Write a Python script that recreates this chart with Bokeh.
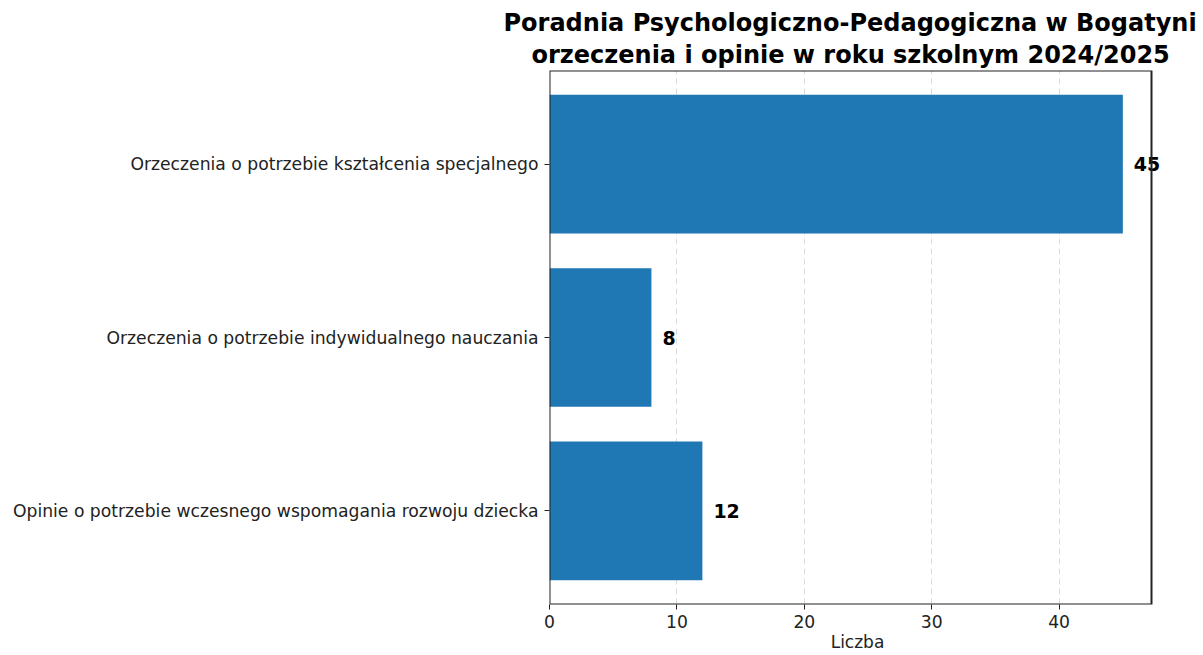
from bokeh.plotting import figure
from bokeh.models import Range1d, Title, ColumnDataSource, FixedTicker, Label, BoxAnnotation
from bokeh.embed import file_html
from bokeh.resources import INLINE

categories = [
    "Orzeczenia o potrzebie kształcenia specjalnego",
    "Orzeczenia o potrzebie indywidualnego nauczania",
    "Opinie o potrzebie wczesnego wspomagania rozwoju dziecka",
]
counts = [45, 8, 12]
x_ticks = [0, 10, 20, 30, 40]
title_line1 = "Poradnia Psychologiczno-Pedagogiczna w Bogatyni"
title_line2 = "orzeczenia i opinie w roku szkolnym 2024/2025"
x_label = "Liczba"

FONT = "DejaVu Sans"
BAR_H = 0.8
LINE = "#222222"

n = len(categories)
ypos = [n - 1 - i for i in range(n)]  # first category on top
span = (n - 1) + BAR_H
pad = 0.05 * span
y0, y1 = -BAR_H / 2 - pad, n - 1 + BAR_H / 2 + pad

# axes box spans 0..x_end; the frame is a bit wider so value labels are not clipped
FRAME_L, BOX_R, FRAME_R = 549, 1151, 1165
x_end = max(counts) * 1.05
view_end = x_end * (FRAME_R - FRAME_L) / (BOX_R - FRAME_L)

source = ColumnDataSource(dict(y=ypos, cnt=counts))

p = figure(
    width=1203, height=655,
    y_range=Range1d(y0, y1),
    x_range=Range1d(0, view_end),
    output_backend="svg", toolbar_location=None, title=None,
    min_border_left=FRAME_L, min_border_right=1203 - FRAME_R,
    min_border_top=70, min_border_bottom=51,
)

for txt, so, off in ((title_line2, 4, -18), (title_line1, 0, -46)):
    p.add_layout(Title(text=txt, align="left", text_font=FONT, text_font_size="24px",
                       text_font_style="bold", text_color="black", standoff=so,
                       offset=off), "above")

p.hbar(y="y", right="cnt", left=0, height=BAR_H, source=source,
       fill_color="#1f77b4", line_color=None)

p.add_layout(BoxAnnotation(left=0, right=x_end, bottom=y0, top=y1,
                           fill_color=None, fill_alpha=0, line_color=LINE,
                           line_alpha=1.0, line_width=2, level="overlay"))

for yv, cnt in zip(ypos, counts):
    p.add_layout(Label(x=cnt, y=yv, text=str(cnt), x_offset=11,
                       text_font=FONT, text_font_size="19px", text_font_style="bold",
                       text_baseline="middle", text_align="left", text_color="black"))

p.outline_line_color = None
p.background_fill_color = "white"
p.border_fill_color = "white"

p.xaxis.ticker = FixedTicker(ticks=x_ticks)
p.yaxis.ticker = FixedTicker(ticks=ypos)
p.yaxis.major_label_overrides = {yv: c for yv, c in zip(ypos, categories)}
p.xaxis.axis_label = x_label
p.xaxis.axis_label_text_font = FONT
p.xaxis.axis_label_text_font_size = "17px"
p.xaxis.axis_label_text_font_style = "normal"
p.xaxis.axis_label_text_color = LINE
p.xaxis.axis_label_standoff = 1
for ax in (p.xaxis, p.yaxis):
    ax.major_label_text_font = FONT
    ax.major_label_text_font_size = "17.2px"
    ax.major_label_text_color = LINE
    ax.axis_line_color = None
    ax.major_tick_line_color = LINE
    ax.major_tick_out = 5
    ax.major_tick_in = 0
    ax.minor_tick_line_color = None
p.xaxis.major_label_standoff = 5
p.yaxis.major_label_standoff = 6

p.ygrid.grid_line_color = None
p.xgrid.grid_line_color = "#cccccc"
p.xgrid.grid_line_alpha = 0.7
p.xgrid.grid_line_dash = "6 4"
p.xgrid.grid_line_width = 1

open("out.html", "w").write(file_html(p, INLINE))
